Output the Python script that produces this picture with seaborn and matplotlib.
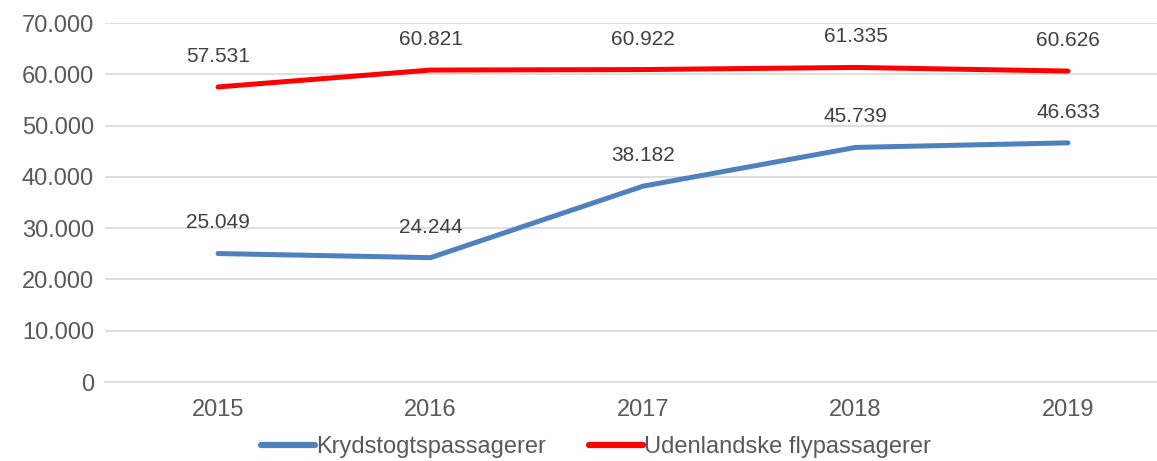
import matplotlib
matplotlib.use("Agg")
import matplotlib.pyplot as plt
import seaborn as sns
import pandas as pd

# data
years = ["2015", "2016", "2017", "2018", "2019"]
cruise = [25049, 24244, 38182, 45739, 46633]
flights = [57531, 60821, 60922, 61335, 60626]
series_names = ["Krydstogtspassagerer", "Udenlandske flypassagerer"]
series_colors = ["#4F81BD", "#FF0000"]

df = pd.DataFrame({
    "year": years * 2,
    "value": cruise + flights,
    "series": [series_names[0]] * len(years) + [series_names[1]] * len(years),
})

sns.set_style("white")
plt.rcParams["font.family"] = ["Liberation Sans", "DejaVu Sans"]
txt = "#595959"

fig = plt.figure(figsize=(11.57, 4.61), dpi=100)
ax = fig.add_axes([105 / 1157, 1 - 382 / 461, 1 - 105 / 1157, 359 / 461])

sns.lineplot(data=df, x="year", y="value", hue="series", palette=series_colors,
             linewidth=3.6, ax=ax, legend=False, solid_capstyle="round")

# data labels above points
for vals in (cruise, flights):
    for i, v in enumerate(vals):
        lbl = f"{v:,}".replace(",", ".")
        ax.annotate(lbl, (i, v), xytext=(0, 22), textcoords="offset points",
                    ha="center", va="center", fontsize=15, color="#404040")

ax.set_ylim(0, 70000)
ax.set_xlim(-0.532, 4.419)
ax.set_yticks(range(0, 70001, 10000))
ax.set_yticklabels(["0" if t == 0 else f"{t:,}".replace(",", ".") for t in range(0, 70001, 10000)])
ax.yaxis.grid(True, color="#D9D9D9", linewidth=1.2)
ax.set_axisbelow(True)
for s in ["top", "right", "left"]:
    ax.spines[s].set_visible(False)
ax.spines["bottom"].set_color("#D9D9D9")
ax.spines["bottom"].set_linewidth(1.2)
ax.tick_params(axis="both", length=0, labelsize=17, labelcolor=txt, pad=8)
ax.tick_params(axis="x", pad=12)
ax.set_xlabel("")
ax.set_ylabel("")

handles = [plt.Line2D([], [], color=c, linewidth=4.5, solid_capstyle="round") for c in series_colors]
fig.legend(handles, series_names, loc="center", bbox_to_anchor=(0.515, 0.03), ncol=2,
           frameon=False, fontsize=17, labelcolor=txt, handlelength=2.3,
           handletextpad=0.05, columnspacing=1.8)

fig.savefig("out.png", dpi=100)
